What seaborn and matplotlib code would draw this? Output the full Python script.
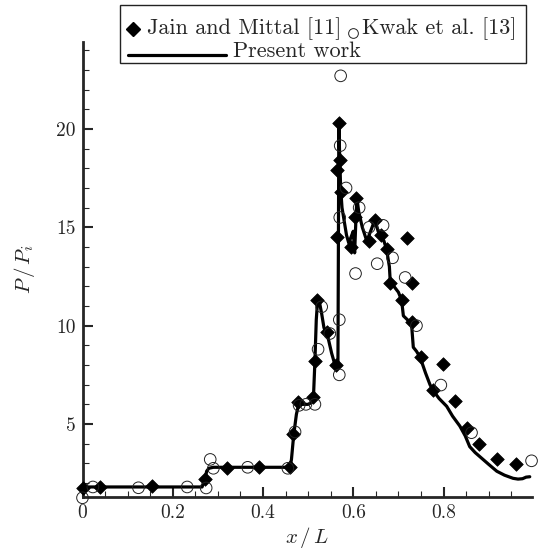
import numpy as np
import pandas as pd
import matplotlib
matplotlib.use("Agg")
import matplotlib.pyplot as plt
from matplotlib.lines import Line2D
from matplotlib.patches import Rectangle
from matplotlib.ticker import MultipleLocator
import seaborn as sns

# ---------------- data ----------------
jain_x = [0.0, 0.039, 0.153, 0.272, 0.32, 0.39, 0.46, 0.466, 0.478, 0.511, 0.515,
          0.52, 0.541, 0.562, 0.563, 0.563, 0.568, 0.571, 0.573, 0.594, 0.604,
          0.607, 0.635, 0.648, 0.661, 0.674, 0.681, 0.707, 0.72, 0.729, 0.729,
          0.749, 0.777, 0.798, 0.825, 0.853, 0.879, 0.918, 0.96]
jain_y = [1.75, 1.78, 1.85, 2.2, 2.75, 2.8, 2.8, 4.5, 6.1, 6.35, 8.2,
          11.3, 9.7, 8.0, 14.5, 17.9, 20.3, 18.4, 16.8, 14.0, 15.5,
          16.5, 14.3, 15.35, 14.6, 13.9, 12.15, 11.3, 14.45, 12.18, 10.2,
          8.4, 6.73, 8.05, 6.18, 4.78, 3.97, 3.2, 2.95]

kwak_x = [0.0, 0.023, 0.124, 0.232, 0.274, 0.283, 0.29, 0.366, 0.455, 0.471,
          0.48, 0.495, 0.515, 0.522, 0.53, 0.548, 0.569, 0.569, 0.572, 0.571,
          0.584, 0.57, 0.613, 0.605, 0.635, 0.653, 0.666, 0.687, 0.715, 0.74,
          0.794, 0.862, 0.995]
kwak_y = [1.25, 1.8, 1.76, 1.8, 1.75, 3.2, 2.75, 2.8, 2.75, 4.6,
          5.95, 6.0, 6.0, 8.8, 10.96, 9.6, 7.5, 10.3, 22.7, 19.15,
          17.0, 15.5, 16.0, 12.65, 15.0, 13.15, 15.1, 13.45, 12.45, 10.0,
          6.98, 4.56, 3.13]

present_x = [0.0, 0.265, 0.268, 0.272, 0.275, 0.28, 0.29, 0.46, 0.463, 0.467,
             0.47, 0.474, 0.478, 0.485, 0.5, 0.508, 0.512, 0.515, 0.518, 0.521,
             0.525, 0.53, 0.535, 0.54, 0.545, 0.548, 0.552, 0.557, 0.562, 0.566,
             0.567, 0.568, 0.57, 0.572, 0.575, 0.58, 0.585, 0.59, 0.595, 0.6,
             0.603, 0.606, 0.608, 0.612, 0.62, 0.63, 0.64, 0.648, 0.655, 0.66,
             0.668, 0.674, 0.68, 0.682, 0.69, 0.7, 0.707, 0.711, 0.72, 0.729,
             0.733, 0.74, 0.748, 0.76, 0.77, 0.777, 0.79, 0.807, 0.82, 0.836,
             0.848, 0.858, 0.87, 0.88, 0.9, 0.918, 0.935, 0.954, 0.965, 0.975,
             0.983, 0.991]
present_y = [1.8, 1.8, 2.0, 2.2, 2.6, 2.75, 2.8, 2.8, 3.2, 4.2,
             4.8, 5.5, 5.9, 6.0, 6.0, 6.1, 6.5, 8.2, 10.3, 11.3,
             11.2, 10.6, 9.9, 9.6, 9.3, 9.0, 8.6, 8.2, 7.9, 8.0,
             14.0, 20.2, 18.5, 17.0, 16.0, 15.3, 14.6, 14.2, 14.5, 14.8,
             13.7, 15.5, 16.5, 15.8, 15.0, 14.3, 14.9, 15.4, 14.8, 14.6,
             14.3, 13.85, 13.0, 12.2, 12.0, 11.7, 11.3, 10.5, 10.3, 10.1,
             8.9, 8.7, 8.4, 7.6, 7.0, 6.7, 6.3, 5.9, 5.4, 4.9,
             4.4, 3.85, 3.55, 3.35, 2.95, 2.6, 2.4, 2.24, 2.2, 2.22,
             2.3, 2.32]

x_ticks = [0, 0.2, 0.4, 0.6, 0.8]
x_ticklabels = ["0", "0.2", "0.4", "0.6", "0.8"]
y_ticks = [5, 10, 15, 20]
y_ticklabels = ["5", "10", "15", "20"]

legend_labels = ["Jain and Mittal [11]", "Kwak et al. [13]", "Present work"]

# ---------------- style ----------------
sns.set_style("ticks")
plt.rcParams["font.family"] = ["cmr10", "DejaVu Serif"]
plt.rcParams["mathtext.fontset"] = "cm"
plt.rcParams["axes.formatter.use_mathtext"] = True

W, H = 538, 552
fig = plt.figure(figsize=(W / 100, H / 100), dpi=100)
ax_l, ax_r, ax_t, ax_b = 82.5, 532, 42, 497
ax = fig.add_axes([ax_l / W, 1 - ax_b / H, (ax_r - ax_l) / W, (ax_b - ax_t) / H])

df_line = pd.DataFrame({"x": present_x, "y": present_y})
df_jain = pd.DataFrame({"x": jain_x, "y": jain_y})
df_kwak = pd.DataFrame({"x": kwak_x, "y": kwak_y})

sns.lineplot(data=df_line, x="x", y="y", ax=ax, sort=False, estimator=None,
             color="black", linewidth=2.3, zorder=3)
sns.scatterplot(data=df_jain, x="x", y="y", ax=ax, marker="D", s=48,
                color="black", edgecolor="black", linewidth=0.5, zorder=4,
                clip_on=False)
sns.scatterplot(data=df_kwak, x="x", y="y", ax=ax, marker="o", s=70,
                facecolor="none", edgecolor="#222222", linewidth=0.7, zorder=5,
                clip_on=False)

ax.set_xlim(0, 0.996)
ax.set_ylim(1.29, 24.42)
ax.set_xticks(x_ticks)
ax.set_xticklabels(x_ticklabels)
ax.set_yticks(y_ticks)
ax.set_yticklabels(y_ticklabels)
ax.xaxis.set_minor_locator(MultipleLocator(0.05))
ax.yaxis.set_minor_locator(MultipleLocator(1))

for s in ["top", "right"]:
    ax.spines[s].set_visible(False)
for s in ["left", "bottom"]:
    ax.spines[s].set_linewidth(2.0)
ax.tick_params(which="major", direction="in", length=7, width=1.5,
               labelsize=14, pad=5)
ax.tick_params(which="minor", direction="in", length=4, width=0.8)

ax.set_xlabel(r"$x\,/\,L$", fontsize=15, labelpad=2)
ax.set_ylabel(r"$P\,/\,P_i$", fontsize=15, labelpad=14)

# ---------------- legend (Tecplot-like box) ----------------
def fx(px):
    return px / W

def fy(py):
    return 1 - py / H

box = Rectangle((fx(119.5), fy(63)), fx(526) - fx(119.5), fy(5) - fy(63),
                transform=fig.transFigure, facecolor="white", edgecolor="#222222",
                linewidth=1.0, zorder=10)
fig.add_artist(box)
fig.add_artist(Line2D([fx(133)], [fy(28.5)], marker="D", markersize=7.5,
                      color="black", transform=fig.transFigure, zorder=11))
fig.text(fx(147), fy(29), legend_labels[0], fontsize=16, va="center",
         ha="left", zorder=11)
fig.add_artist(Line2D([fx(353)], [fy(33)], marker="o", markersize=7,
                      markerfacecolor="none", markeredgecolor="#222222",
                      markeredgewidth=0.7, linestyle="none",
                      transform=fig.transFigure, zorder=11))
fig.text(fx(362), fy(29), legend_labels[1], fontsize=16, va="center",
         ha="left", zorder=11)
fig.add_artist(Line2D([fx(128), fx(226)], [fy(55), fy(55)], color="black",
                      linewidth=2.3, transform=fig.transFigure, zorder=11))
fig.text(fx(233), fy(51), legend_labels[2], fontsize=16, va="center",
         ha="left", zorder=11)

fig.savefig("out.png", dpi=100)
